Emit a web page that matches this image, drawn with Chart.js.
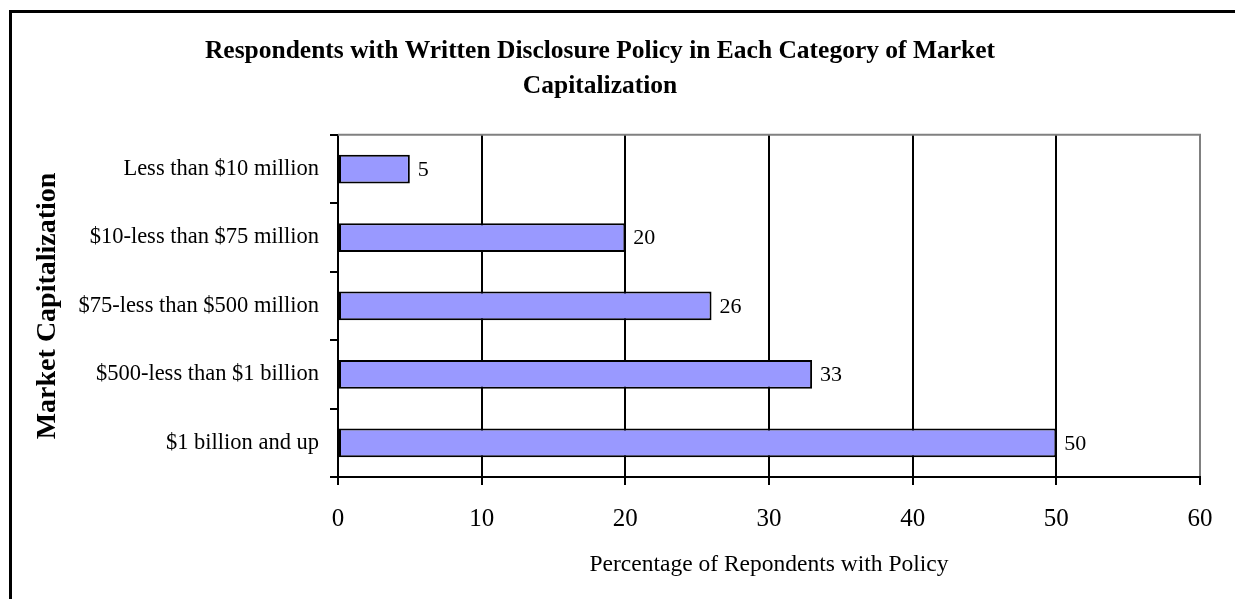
<!DOCTYPE html>
<html lang="en">
  <head>
    <meta charset="UTF-8" />
    <title>Written Disclosure Policy by Market Capitalization</title>
    <script src="https://cdn.jsdelivr.net/npm/chart.js"></script>
    <style>
      body {
        margin: 0;
        padding: 0;
        background: #fff;
      }
      canvas {
        display: block;
      }
    </style>
  </head>
  <body>
    <canvas id="chart" width="1235" height="599"></canvas>

    <script>
      const categories = [
        'Less than $10 million',
        '$10-less than $75 million',
        '$75-less than $500 million',
        '$500-less than $1 billion',
        '$1 billion and up',
      ];
      const percentages = [5, 20, 26, 33, 50];
      const xTicks = [0, 10, 20, 30, 40, 50, 60];

      const serif = "'Liberation Serif', 'Times New Roman', serif";

      // white page with the frame line along the top and left
      const framePlugin = {
        id: 'frame',
        beforeDraw(chart) {
          const { ctx, width, height } = chart;
          ctx.save();
          ctx.fillStyle = '#fff';
          ctx.fillRect(0, 0, width, height);
          ctx.strokeStyle = '#000';
          ctx.lineWidth = 3;
          ctx.beginPath();
          ctx.moveTo(9, 11.5);
          ctx.lineTo(width, 11.5);
          ctx.moveTo(10.5, 10);
          ctx.lineTo(10.5, height);
          ctx.stroke();
          ctx.restore();
        },
        beforeDatasetsDraw(chart) {
          // grey top edge of the plot area
          const { ctx, chartArea } = chart;
          ctx.save();
          ctx.strokeStyle = '#808080';
          ctx.lineWidth = 2;
          ctx.beginPath();
          ctx.moveTo(chartArea.left, chartArea.top);
          ctx.lineTo(chartArea.right + 1, chartArea.top);
          ctx.stroke();
          ctx.restore();
        },
      };

      // value written just past the end of each bar
      const barValuePlugin = {
        id: 'barValues',
        afterDatasetsDraw(chart) {
          const { ctx } = chart;
          const meta = chart.getDatasetMeta(0);
          ctx.save();
          ctx.fillStyle = '#000';
          ctx.font = '22px ' + serif;
          ctx.textAlign = 'left';
          ctx.textBaseline = 'middle';
          meta.data.forEach((bar, i) => {
            ctx.fillText(String(percentages[i]), bar.x + 8, bar.y + 1);
          });
          ctx.restore();
        },
      };

      new Chart(document.getElementById('chart'), {
        type: 'bar',
        data: {
          labels: categories,
          datasets: [
            {
              data: percentages,
              backgroundColor: '#9999FF',
              borderColor: '#000',
              borderWidth: 2,
              borderSkipped: false,
              barPercentage: 0.42,
              categoryPercentage: 1,
            },
          ],
        },
        options: {
          indexAxis: 'y',
          responsive: false,
          animation: false,
          layout: { padding: { left: 0, right: 35, top: 0, bottom: 0 } },
          plugins: {
            legend: { display: false },
            tooltip: { enabled: false },
            title: {
              display: true,
              text: [
                'Respondents with Written Disclosure Policy in Each Category of Market',
                'Capitalization',
              ],
              color: '#000',
              font: { family: serif, size: 25.5, weight: 'bold', lineHeight: 1.37 },
              padding: { top: 34, bottom: 31 },
            },
          },
          scales: {
            x: {
              min: 0,
              max: 60,
              afterBuildTicks(scale) {
                scale.ticks = xTicks.map((v) => ({ value: v }));
              },
              afterFit(scale) {
                scale.height = 122;
              },
              grid: {
                color: (c) => (c.tick && c.tick.value === 60 ? '#808080' : '#000'),
                tickColor: '#000',
                lineWidth: 2,
                tickLength: 8,
              },
              border: { color: '#000', width: 2 },
              ticks: {
                color: '#000',
                font: { family: serif, size: 25 },
                padding: 19,
                maxRotation: 0,
              },
              title: {
                display: true,
                text: 'Percentage of Repondents with Policy',
                color: '#000',
                font: { family: serif, size: 23.5 },
                padding: { top: 0, bottom: 20 },
              },
            },
            y: {
              afterFit(scale) {
                scale.width = 338;
              },
              grid: {
                drawOnChartArea: false,
                color: '#000',
                lineWidth: 2,
                tickLength: 8,
              },
              border: { color: '#000', width: 2 },
              ticks: {
                color: '#000',
                font: { family: serif, size: 22.5 },
                padding: 11,
              },
              title: {
                display: true,
                text: 'Market Capitalization',
                color: '#000',
                font: { family: serif, size: 28, weight: 'bold' },
                padding: { top: 31, bottom: 0 },
              },
            },
          },
        },
        plugins: [framePlugin, barValuePlugin],
      });
    </script>
  </body>
</html>
